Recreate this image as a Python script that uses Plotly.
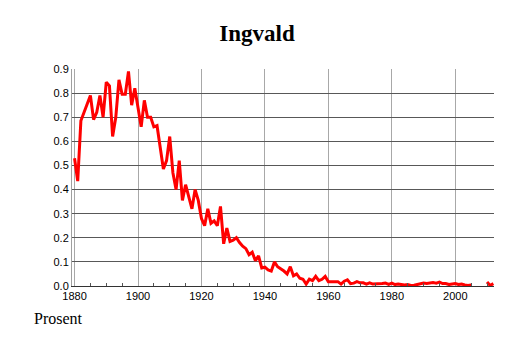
import plotly.graph_objects as go

years = list(range(1880, 2013))
values = [
    0.53, 0.435, 0.685, 0.72, 0.75, 0.79, 0.69, 0.72, 0.79, 0.70,   # 1880-1889
    0.845, 0.83, 0.62, 0.70, 0.855, 0.795, 0.795, 0.89, 0.75, 0.82, # 1890-1899
    0.74, 0.66, 0.77, 0.70, 0.70, 0.66, 0.665, 0.575, 0.485, 0.52,  # 1900-1909
    0.62, 0.47, 0.40, 0.52, 0.355, 0.42, 0.37, 0.32, 0.40, 0.355,   # 1910-1919
    0.28, 0.25, 0.32, 0.26, 0.27, 0.25, 0.33, 0.175, 0.24, 0.185,   # 1920-1929
    0.19, 0.20, 0.18, 0.165, 0.155, 0.13, 0.14, 0.105, 0.125, 0.075,# 1930-1939
    0.078, 0.067, 0.062, 0.10, 0.08, 0.072, 0.062, 0.05, 0.08, 0.042,# 1940-1949
    0.05, 0.032, 0.028, 0.008, 0.028, 0.022, 0.04, 0.022, 0.028, 0.04,# 1950-1959
    0.018, 0.018, 0.018, 0.018, 0.008, 0.02, 0.026, 0.01, 0.012, 0.018,# 1960-1969
    0.013, 0.013, 0.008, 0.013, 0.008, 0.008, 0.01, 0.01, 0.012, 0.007,# 1970-1979
    0.012, 0.006, 0.008, 0.006, 0.004, 0.006, 0.002, 0.003, 0.006, 0.008,# 1980-1989
    0.012, 0.01, 0.012, 0.014, 0.012, 0.016, 0.01, 0.01, 0.006, 0.008,# 1990-1999
    0.01, 0.006, 0.008, 0.004, 0.002, 0.004, None, None, None, None,  # 2000-2009
    0.017, 0.002, 0.01,                                               # 2010-2012
]

title_text = "Ingvald"
y_label = "Prosent"

fig = go.Figure()
fig.add_trace(go.Scatter(
    x=years, y=values, mode="lines",
    line=dict(color="#ff0000", width=3),
    connectgaps=False, showlegend=False, hoverinfo="skip",
))

fig.update_layout(
    width=514, height=343,
    margin=dict(l=72, r=20, t=69, b=57),
    paper_bgcolor="white", plot_bgcolor="white",
    title=dict(text="<b>" + title_text + "</b>", x=0.5, xanchor="center",
               y=1 - 33 / 343, yref="container", yanchor="middle",
               font=dict(family="Liberation Serif", size=23, color="black")),
    font=dict(family="Liberation Sans", size=11, color="black"),
    xaxis=dict(
        range=[1879.2, 2012.2], tick0=1880, dtick=20,
        showgrid=True, gridcolor="#a8a8a8", gridwidth=1,
        ticks="", showline=True, linecolor="#333333", linewidth=1,
        zeroline=False, tickfont=dict(size=11),
        minor=dict(dtick=5, tick0=1880, ticks="inside", ticklen=3,
                   tickcolor="#555555", showgrid=False),
    ),
    yaxis=dict(
        range=[0, 0.9], tick0=0, dtick=0.1, tickformat=".1f",
        showgrid=True, gridcolor="#585858", gridwidth=1,
        ticks="", showline=True, linecolor="#a0a0a0", linewidth=1,
        zeroline=False, tickfont=dict(size=11),
    ),
    annotations=[dict(
        text=y_label, xref="paper", yref="paper",
        x=(32 - 72) / 422, y=(286 - 318) / 217,
        xanchor="left", yanchor="middle", showarrow=False,
        font=dict(family="Liberation Serif", size=16, color="black"),
    )],
)

fig.write_html("out.html")
